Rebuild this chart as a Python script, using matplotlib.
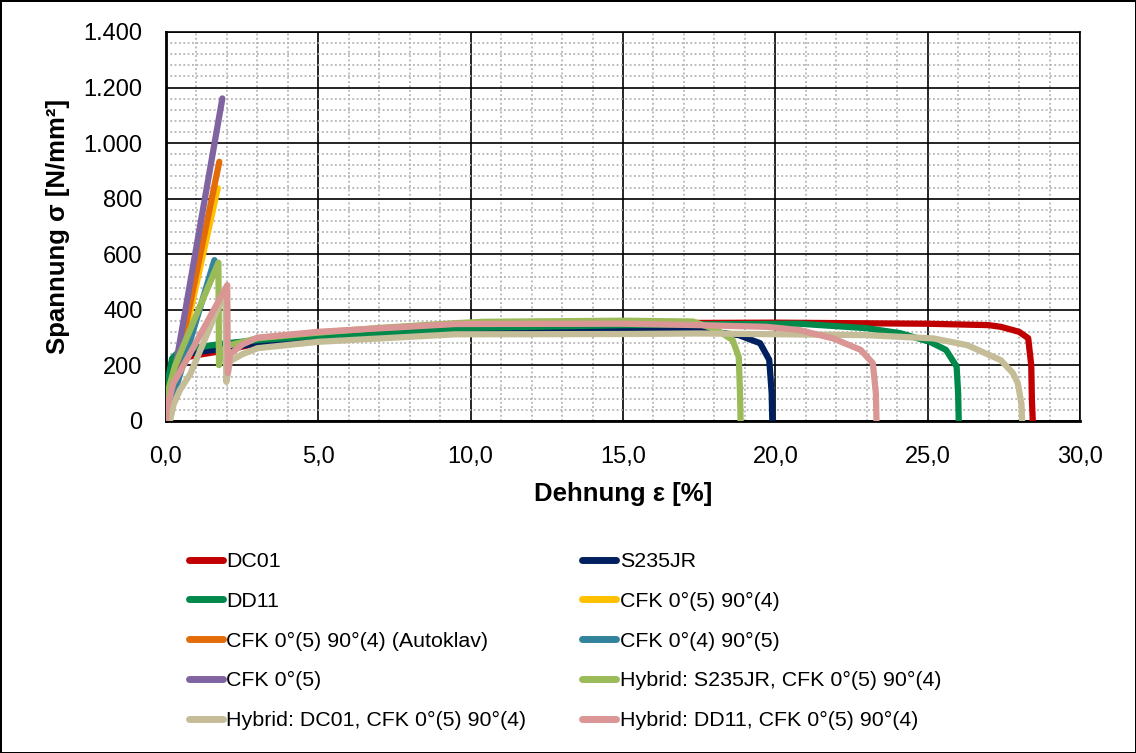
import matplotlib
matplotlib.use("Agg")
import matplotlib.pyplot as plt
from matplotlib.ticker import MultipleLocator, FuncFormatter

plt.rcParams['font.family'] = ['Liberation Sans', 'DejaVu Sans']

# ---- data (strain in %, stress in N/mm²) ----
labels = ["DC01", "S235JR", "DD11", "CFK 0°(5) 90°(4)", "CFK 0°(5) 90°(4) (Autoklav)",
          "CFK 0°(4) 90°(5)", "CFK 0°(5)", "Hybrid: S235JR, CFK 0°(5) 90°(4)",
          "Hybrid: DC01, CFK 0°(5) 90°(4)", "Hybrid: DD11, CFK 0°(5) 90°(4)"]
colors = ["#C00000", "#002060", "#00894B", "#FFC000", "#E36C09",
          "#31849B", "#8064A2", "#9BBB59", "#C4BD97", "#DA9694"]

dc01_x = [0, 0.1, 0.2, 0.5, 1, 2, 3, 5, 10, 15, 20, 25, 27.0, 27.4, 28.0, 28.3, 28.4, 28.42, 28.45]
dc01_y = [0, 150, 200, 225, 237, 255, 280, 305, 340, 352, 354, 350, 345, 339, 321, 298, 200, 80, 0]

s235_x = [0, 0.1, 0.2, 0.5, 1, 2, 3, 5, 10, 15, 17.5, 18.8, 19.5, 19.8, 19.88, 19.9]
s235_y = [0, 160, 215, 235, 248, 262, 280, 302, 327, 330, 327, 309, 280, 220, 100, 0]

dd11_x = [0, 0.02, 0.2, 0.46, 1, 2, 3, 5, 10, 15, 17.5, 20.8, 23.0, 24.1, 25.07, 25.6, 25.95, 26.0, 26.02]
dd11_y = [0, 123, 225, 255, 265, 280, 291, 306, 335, 345, 348, 350, 334, 316, 285, 256, 196, 100, 0]

cfk54_x = [0, 1.70]
cfk54_y = [0, 838]

cfk54a_x = [0, 1.75]
cfk54a_y = [0, 933]

cfk45_x = [0, 1.59]
cfk45_y = [0, 579]

cfk5_x = [0, 1.85]
cfk5_y = [0, 1161]

hs235_x = [0, 0.1, 0.3, 1.72, 1.74, 1.8, 2.0, 3, 5, 7, 9.5, 10.4, 15, 17.3, 18.1, 18.6, 18.8, 18.84, 18.86]
hs235_y = [0, 120, 200, 570, 201, 245, 270, 298, 318, 335, 352, 357, 361, 358, 327, 291, 230, 100, 0]

hdc01_x = [0.13, 0.25, 0.46, 0.8, 1.95, 1.98, 2.1, 2.5, 3, 5, 9.5, 15, 17.5, 23.0, 25.2, 26.3, 27.4, 27.8, 27.96, 28.08, 28.1]
hdc01_y = [0, 60, 112, 170, 470, 141, 215, 240, 262, 285, 312, 313, 315, 309, 297, 273, 219, 172, 136, 60, 0]

hdd11_x = [0, 0.02, 0.24, 0.5, 2.01, 2.03, 2.1, 2.5, 3, 5, 9.5, 15, 17.5, 19.7, 20.8, 21.9, 22.8, 23.2, 23.3, 23.32]
hdd11_y = [0, 40, 136, 185, 489, 173, 240, 275, 300, 321, 349, 350, 345, 339, 327, 297, 256, 208, 100, 0]

series_x = [dc01_x, s235_x, dd11_x, cfk54_x, cfk54a_x, cfk45_x, cfk5_x, hs235_x, hdc01_x, hdd11_x]
series_y = [dc01_y, s235_y, dd11_y, cfk54_y, cfk54a_y, cfk45_y, cfk5_y, hs235_y, hdc01_y, hdd11_y]

x_label = "Dehnung ε [%]"
y_label = "Spannung σ [N/mm²]"

# ---- figure ----
fig = plt.figure(figsize=(11.36, 7.53), dpi=100)
fig.patch.set_edgecolor("black")
fig.patch.set_linewidth(2)
ax = fig.add_axes([166/1136, 1 - 421/753, (1080 - 166)/1136, (421 - 32)/753])

handles = []
for xs, ys, c, lab in zip(series_x, series_y, colors, labels):
    h, = ax.plot(xs, ys, color=c, lw=4.5, label=lab, solid_capstyle="round",
                 solid_joinstyle="round", zorder=3)
    handles.append(h)

ax.set_xlim(0, 30)
ax.set_ylim(0, 1400)
ax.xaxis.set_major_locator(MultipleLocator(5))
ax.xaxis.set_minor_locator(MultipleLocator(1))
ax.yaxis.set_major_locator(MultipleLocator(200))
ax.yaxis.set_minor_locator(MultipleLocator(40))
ax.xaxis.set_major_formatter(FuncFormatter(lambda v, p: f"{v:.1f}".replace(".", ",")))
ax.yaxis.set_major_formatter(FuncFormatter(lambda v, p: f"{int(round(v)):,}".replace(",", ".")))

ax.grid(which="minor", color="#b4b4b4", linestyle=(0, (1, 1.4)), linewidth=1.3, zorder=0)
ax.grid(which="major", color="black", linestyle="-", linewidth=1.2, zorder=1)
ax.set_axisbelow(True)

ax.tick_params(which="both", length=0)
ax.tick_params(axis="y", labelsize=17, pad=17)
ax.tick_params(axis="x", labelsize=17, pad=18)

for s in ["left", "bottom"]:
    ax.spines[s].set_linewidth(2)
    ax.spines[s].set_color("black")
for s in ["top", "right"]:
    ax.spines[s].set_linewidth(1.2)
    ax.spines[s].set_color("black")

ax.set_xlabel(x_label, fontsize=18.5, fontweight="bold", labelpad=10)
ax.set_ylabel(y_label, fontsize=18.5, fontweight="bold", labelpad=10)

order = [0, 2, 4, 6, 8, 1, 3, 5, 7, 9]
leg = fig.legend([handles[i] for i in order], [labels[i] for i in order], ncol=2,
                 loc="upper left", bbox_to_anchor=(189/1136, 1 - 552/753), frameon=False,
                 fontsize=15.4, handlelength=1.6, handletextpad=0.15, columnspacing=2.6,
                 labelspacing=0.97, borderpad=0, borderaxespad=0)
for lh in leg.get_lines():
    lh.set_linewidth(5)

fig.savefig("out.png", dpi=100)
